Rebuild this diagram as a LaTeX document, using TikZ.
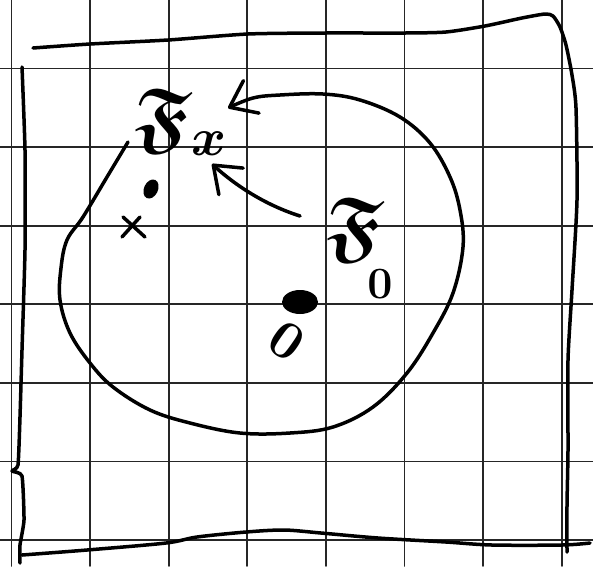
\documentclass[tikz,border=0pt]{standalone}
\usepackage{amsfonts}
\usepackage{graphicx}
\usetikzlibrary{arrows.meta}
\newcommand{\frakF}[1]{\scalebox{3.2}{\Huge\boldmath$\mathfrak{F}#1$}}
\newcommand{\hand}[1]{\scalebox{1.8}{\Huge\boldmath$#1$}}
\begin{document}
\begin{tikzpicture}[x=1pt,y=-1pt,line cap=round,line join=round]
	\useasboundingbox (0,0) rectangle (593,566);
	\tikzset{gridline/.style={line width=1.8pt,black!85},
		ink/.style={line width=3.5pt},
		barb/.style={-{Straight Barb[length=24pt,width=36pt,round]}}}
	\foreach \i in {0,...,7}{\draw[gridline] (11.4+78.6*\i,0) -- ++(0,566);}
	\foreach \j in {0,...,6}{\draw[gridline] (0,68.4+78.6*\j) -- ++(593,0);}
	% frame
	\draw[ink] plot[smooth,tension=0.4] coordinates {(33,48) (90,44) (168,40) (248,34) (325,33) (405,33) (446,32) (485,26) (522,18) (545,14) (553,16) (560,27) (566,45) (572,75) (576,108) (577,200) (572,290) (568,360) (568,450) (567,505) (567,552)};
	\draw[ink] plot[smooth,tension=0.3] coordinates {(22,67) (25,150) (25,250) (22,350) (20,417) (18,465) (12,471) (22,476) (24,520) (20,545) (20,563)};
	\draw[ink] plot[smooth,tension=0.5] coordinates {(22,555) (87,550) (166,543) (197,537) (246,532) (284,530) (321,533) (378,538) (446,542) (492,545) (562,545) (590,543)};
	% labels
	\node[inner sep=0,anchor=west] (Fx) at (134,122) {\frakF{_{\scalebox{0.8}{$\scriptstyle x$}}}};
	\node[inner sep=0] (F0) at (355,230) {\frakF{}};
	\node[inner sep=0] (osub) at (380,284) {\hand{0}};
	\node[inner sep=0,rotate=-35] (origin) at (287,341) {\scalebox{1.2}{\hand{0}}};
	% points
	\fill[rotate around={-25:(151,189)}] (151,189) ellipse (7 and 10);
	\fill (300,302) ellipse (18 and 12);
	\draw[ink] (122,237) -- (140,217) (123,217) -- (145,237);
	% arrows
	\coordinate (loopstart) at (128,142);
	\coordinate (tipA) at (228,108);
	\draw[ink,barb] plot[smooth,tension=0.6] coordinates {(loopstart) (107,177) (83,217) (67,240) (61,268) (60,300) (70,333) (90,363) (113,387) (150,410) (190,423) (240,433) (290,433) (333,427) (373,407) (407,373) (433,333) (453,293) (463,247) (460,210) (450,177) (430,143) (400,117) (360,100) (323,94) (280,95) (253,98) (tipA)};
	\draw[ink,barb] ([shift={(-26,-14)}]F0.west) .. controls (265,205) and (235,185) .. (212,164);
\end{tikzpicture}
\end{document}
